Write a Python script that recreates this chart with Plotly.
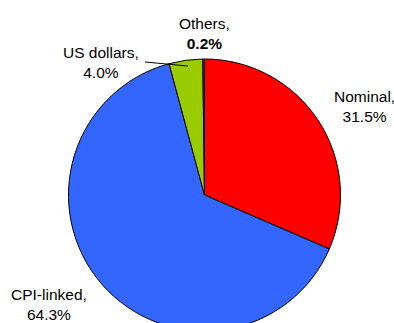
import plotly.graph_objects as go

# Composition by instrument type (%)
labels = ["Nominal", "CPI-linked", "US dollars", "Others"]
values = [31.5, 64.3, 4.0, 0.2]
colors = ["#FF0000", "#3366FF", "#99CC00", "#663300"]

W, H = 394, 340
cx, cy, r = 204.5, 195, 136  # pie centre and radius in pixels


def px_x(x):
    return x / W


def px_y(y):
    return 1 - y / H


fig = go.Figure(
    go.Pie(
        labels=labels,
        values=values,
        sort=False,
        direction="clockwise",
        rotation=0,
        textinfo="none",
        hoverinfo="label+percent",
        marker=dict(colors=colors, line=dict(color="#000000", width=1)),
        domain=dict(x=[px_x(cx - r), px_x(cx + r)], y=[px_y(cy + r), px_y(cy - r)]),
        showlegend=False,
    )
)

# label anchor points (pixel centres of each two-line label)
label_pos = {
    "Nominal": (364, 106),
    "CPI-linked": (49, 304),
    "US dollars": (101, 62),
    "Others": (205, 34),
}
font = dict(family="Liberation Sans, Arial, sans-serif", size=15.5, color="#000000")
for lab, val in zip(labels, values):
    pct = f"{val:.1f}%"
    if lab == "Others":
        pct = f"<b>{pct}</b>"
    x, y = label_pos[lab]
    fig.add_annotation(
        x=px_x(x), y=px_y(y), xref="paper", yref="paper",
        text=f"{lab},<br>{pct}", showarrow=False, align="center",
        xanchor="center", yanchor="middle", font=font,
    )

# leader line for the US dollars slice
fig.add_shape(type="line", xref="paper", yref="paper",
              x0=px_x(145), y0=px_y(62), x1=px_x(188), y1=px_y(66),
              line=dict(color="#000000", width=1))

fig.update_layout(
    width=W, height=H,
    margin=dict(l=0, r=0, t=0, b=0),
    paper_bgcolor="#FFFFFF", plot_bgcolor="#FFFFFF",
)

fig.write_html(
    "out.html",
    post_script="document.body.style.overflow='hidden';document.documentElement.style.overflow='hidden';",
)
